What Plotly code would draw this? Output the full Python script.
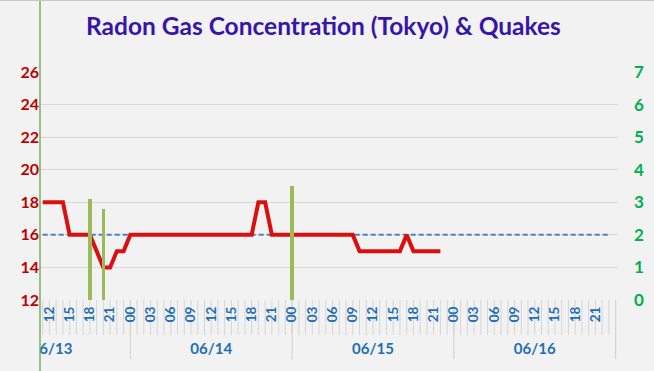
import plotly.graph_objects as go

# ---------------- data ----------------
# hours counted from 06/13 00:00
category_hours = list(range(11, 96))          # 06/13 11:00 ... 06/16 23:00
radon_hours = list(range(11, 71))             # 06/13 11:00 ... 06/15 22:00
radon_values = [18, 18, 18, 18, 16, 16, 16, 16, 15, 14,
                14, 15, 15, 16, 16, 16, 16, 16, 16, 16,
                16, 16, 16, 16, 16, 16, 16, 16, 16, 16,
                16, 16, 18, 18, 16, 16, 16, 16, 16, 16,
                16, 16, 16, 16, 16, 16, 16, 15, 15, 15,
                15, 15, 15, 15, 16, 15, 15, 15, 15, 15]
average_level = 16
quake_hours = [18, 20, 48]
quake_magnitudes = [3.1, 2.8, 3.5]
day_labels = ["06/13", "06/14", "06/15", "06/16"]
day_label_hours = [12.3, 36, 60, 84]
day_boundaries = [24, 48, 72, 96]
tick_hours = [h for h in category_hours if h % 3 == 0]
tick_labels = ["%02d" % (h % 24) for h in tick_hours]

# ---------------- styling ----------------
BG = "#F2F2F2"
FONT = "Lato"
W, H = 654, 371
ML, MR, MT, MB = 40, 36, 72, 6
plot_h = H - MT - MB
main_bottom = (H - MB - 300) / plot_h
XRANGE = [10.6, 96.35]

fig = go.Figure()

fig.add_trace(go.Scatter(
    x=[category_hours[0], category_hours[-1]], y=[average_level, average_level],
    mode="lines", line=dict(color="#4F81BD", width=2, dash="5px,3px"),
    xaxis="x", yaxis="y", showlegend=False, hoverinfo="skip"))

fig.add_trace(go.Scatter(
    x=radon_hours, y=radon_values, mode="lines",
    line=dict(color="#DA1010", width=4),
    xaxis="x", yaxis="y", showlegend=False))

fig.add_trace(go.Bar(
    x=quake_hours, y=quake_magnitudes, width=0.5,
    marker=dict(color="#9BBB59", line=dict(width=0)),
    xaxis="x", yaxis="y2", showlegend=False))

fig.add_trace(go.Scatter(
    x=day_label_hours, y=[0.22] * len(day_labels), text=day_labels,
    mode="text", textposition="middle center", cliponaxis=True,
    textfont=dict(family=FONT, size=15, color="#1F6FB5", weight="bold"),
    xaxis="x2", yaxis="y3", showlegend=False, hoverinfo="skip"))

shapes = []
for h in category_hours:
    shapes.append(dict(type="line", xref="x", yref="paper", x0=h, x1=h,
                       y0=main_bottom, y1=main_bottom - 35 / plot_h,
                       line=dict(color="#D6D6D6", width=1), layer="below"))
for h in day_boundaries:
    shapes.append(dict(type="line", xref="x", yref="paper", x0=h, x1=h,
                       y0=main_bottom, y1=0.02,
                       line=dict(color="#D0D0D0", width=1), layer="below"))
# green vertical line at the left edge of the plot area
shapes.append(dict(type="line", xref="paper", yref="paper", x0=0, x1=0,
                   y0=-0.05, y1=1.3, line=dict(color="#5C9E3C", width=1.2)))
# thin border at top
shapes.append(dict(type="line", xref="paper", yref="paper", x0=-0.1, x1=1.1,
                   y0=1 + (MT - 0.5) / plot_h, y1=1 + (MT - 0.5) / plot_h,
                   line=dict(color="#C8C8C8", width=1)))

fig.update_layout(
    width=W, height=H,
    margin=dict(l=ML, r=MR, t=MT, b=MB, autoexpand=False),
    paper_bgcolor=BG, plot_bgcolor=BG,
    showlegend=False,
    bargap=0,
    shapes=shapes,
    annotations=[dict(
        text="Radon Gas Concentration (Tokyo) & Quakes",
        xref="paper", yref="paper", x=(323 - ML) / (W - ML - MR),
        y=1 + (MT - 26) / plot_h, xanchor="center", yanchor="middle",
        showarrow=False,
        font=dict(family=FONT, size=24.5, color="#3616A8", weight="bold"))],
    xaxis=dict(
        domain=[0, 1], anchor="y", range=XRANGE, automargin=False,
        tickmode="array", tickvals=tick_hours, ticktext=tick_labels,
        tickangle=-90, ticks="", showgrid=False, zeroline=False, showline=False,
        ticklabelstandoff=3,
        tickfont=dict(family=FONT, size=13.5, color="#1F6FB5", weight="bold")),
    yaxis=dict(
        domain=[main_bottom, 1], anchor="x", range=[12, 26], dtick=2,
        tick0=12, showgrid=True, gridcolor="#D9D9D9", gridwidth=1,
        zeroline=False, showline=False, ticks="", automargin=False,
        tickfont=dict(family=FONT, size=16, color="#C00000", weight="bold")),
    yaxis2=dict(
        overlaying="y", side="right", anchor="x", range=[0, 7], dtick=1,
        showgrid=False, zeroline=False, showline=False, ticks="",
        ticklabelstandoff=15, automargin=False,
        tickfont=dict(family=FONT, size=17, color="#00B050", weight="bold")),
    xaxis2=dict(domain=[0, 1], anchor="y3", range=XRANGE, visible=False),
    yaxis3=dict(domain=[0, main_bottom], anchor="x2", range=[0, 1],
                visible=False),
)

fig.write_html("out.html")
